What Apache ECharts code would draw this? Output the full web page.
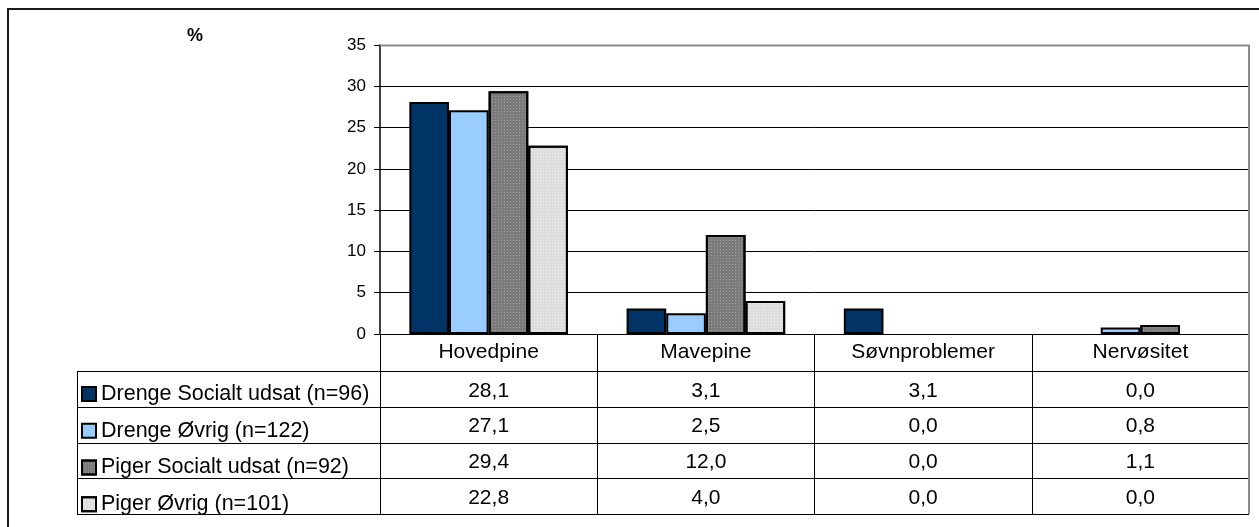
<!DOCTYPE html>
<html>
<head>
<meta charset="utf-8">
<script src="https://cdn.jsdelivr.net/npm/echarts@6/dist/echarts.min.js"></script>
<style>
  html, body { margin: 0; padding: 0; background: #fff; }
  #chart { width: 1259px; height: 527px; }
</style>
</head>
<body>
<div id="chart"></div>
<script>
// Symptom categories and the share (%) reporting each, per group
const categories = ['Hovedpine', 'Mavepine', 'Søvnproblemer', 'Nervøsitet'];
const groupNames = [
  'Drenge Socialt udsat (n=96)',
  'Drenge Øvrig (n=122)',
  'Piger Socialt udsat (n=92)',
  'Piger Øvrig (n=101)'
];
const drengeSocialtUdsat = [28.1, 3.1, 3.1, 0.0];
const drengeOevrig = [27.1, 2.5, 0.0, 0.8];
const pigerSocialtUdsat = [29.4, 12.0, 0.0, 1.1];
const pigerOevrig = [22.8, 4.0, 0.0, 0.0];
const yMin = 0, yMax = 35, yStep = 5;
const unitLabel = '%';

const FONT = "'Liberation Sans', Arial, sans-serif";
const groupValues = [drengeSocialtUdsat, drengeOevrig, pigerSocialtUdsat, pigerOevrig];
const groupColors = ['#003366', '#99ccff', '#7b7b7b', '#dddddd'];
const groupDecals = [
  null,
  null,
  { symbol: 'rect', symbolSize: 1, dashArrayX: [1, 2], dashArrayY: [1, 2], color: 'rgba(255,255,255,0.28)' },
  { symbol: 'rect', symbolSize: 1, dashArrayX: [1, 2], dashArrayY: [1, 2], color: 'rgba(255,255,255,0.6)' }
];

const GRID = { left: 380, right: 10, top: 45, bottom: 193 };
const ROW_H = 35.75;
const TABLE_LEFT = 77;

const chart = echarts.init(document.getElementById('chart'), null, { renderer: 'canvas' });

const series = groupNames.map((name, i) => {
  const itemStyle = { color: groupColors[i], borderColor: '#000', borderWidth: 2 };
  if (groupDecals[i]) itemStyle.decal = groupDecals[i];
  return {
    name,
    type: 'bar',
    barGap: '0%',
    barCategoryGap: '27%',
    itemStyle,
    emphasis: { disabled: true },
    data: groupValues[i].map(v => v === 0
      ? { value: v, itemStyle: { borderWidth: 0 } }
      : v)
  };
});

chart.setOption({
  animation: false,
  textStyle: { fontFamily: FONT },
  grid: { left: GRID.left, right: GRID.right, top: GRID.top, bottom: GRID.bottom, containLabel: false },
  legend: {
    orient: 'vertical',
    left: 81,
    top: 371 + (ROW_H - 21) / 2 + 4.5,
    padding: 0,
    itemWidth: 14,
    itemHeight: 14,
    itemGap: ROW_H - 21,
    icon: 'rect',
    selectedMode: false,
    itemStyle: { borderColor: '#000', borderWidth: 2 },
    textStyle: { fontFamily: FONT, fontSize: 21.5, lineHeight: 21, color: '#000' },
    data: groupNames
  },
  xAxis: {
    type: 'category',
    data: categories,
    axisLine: { lineStyle: { color: '#000', width: 1 } },
    axisTick: { show: true, length: 180, lineStyle: { color: '#000', width: 1 } },
    axisLabel: { fontFamily: FONT, fontSize: 21, color: '#000', margin: 8, interval: 0 },
    splitLine: { show: false }
  },
  yAxis: {
    type: 'value',
    min: yMin,
    max: yMax,
    interval: yStep,
    axisLine: { show: true, lineStyle: { color: '#000', width: 1.5 } },
    axisTick: { show: true, length: 6, lineStyle: { color: '#000' } },
    axisLabel: { fontFamily: FONT, fontSize: 17, color: '#000', margin: 14 },
    splitLine: { show: true, lineStyle: { color: '#000', width: 1 } }
  },
  series
});

// Data table beneath the plot, positioned from the axes' own scales
function buildTable() {
  const baseY = chart.convertToPixel({ yAxisIndex: 0 }, yMin);
  const topY = chart.convertToPixel({ yAxisIndex: 0 }, yMax);
  const plotLeft = GRID.left;
  const plotRight = chart.getWidth() - GRID.right;
  const headerBottom = baseY + 37;
  const elements = [];

  // outer chart-area frame
  elements.push({
    type: 'rect', silent: true, z: 10,
    shape: { x: 8, y: 9, width: chart.getWidth() + 10, height: chart.getHeight() + 10 },
    style: { fill: 'none', stroke: '#1a1a1a', lineWidth: 2 }
  });

  // plot border: top and right in grey
  elements.push({
    type: 'polyline', silent: true, z: 10,
    shape: { points: [[plotLeft, topY + 0.5], [plotRight, topY + 0.5], [plotRight, headerBottom + 4 * ROW_H]] },
    style: { fill: 'none', stroke: '#8c8c8c', lineWidth: 2 }
  });

  // horizontal table rules
  for (let r = 0; r <= groupNames.length; r++) {
    const y = Math.round(headerBottom + r * ROW_H) + 0.5;
    elements.push({
      type: 'line', silent: true, z: 9,
      shape: { x1: TABLE_LEFT, y1: y, x2: plotRight, y2: y },
      style: { stroke: '#000', lineWidth: 1 }
    });
  }
  // left edge of the legend column
  elements.push({
    type: 'line', silent: true, z: 9,
    shape: { x1: TABLE_LEFT + 0.5, y1: headerBottom, x2: TABLE_LEFT + 0.5, y2: headerBottom + 4 * ROW_H },
    style: { stroke: '#000', lineWidth: 1 }
  });

  // cell values
  groupValues.forEach((vals, r) => {
    const cy = headerBottom + r * ROW_H + ROW_H / 2;
    vals.forEach((v, c) => {
      const cx = chart.convertToPixel({ xAxisIndex: 0 }, categories[c]);
      elements.push({
        type: 'text', silent: true, z: 9,
        x: cx, y: cy + 2,
        style: {
          text: v.toFixed(1).replace('.', ','),
          font: '21px ' + FONT,
          fill: '#000',
          align: 'center',
          verticalAlign: 'middle'
        }
      });
    });
  });

  // unit label
  elements.push({
    type: 'text', silent: true, z: 9,
    x: 195, y: 36,
    style: { text: unitLabel, font: 'bold 18px ' + FONT, fill: '#000', align: 'center', verticalAlign: 'middle' }
  });

  chart.setOption({ graphic: { elements } });
}
buildTable();
</script>
</body>
</html>
